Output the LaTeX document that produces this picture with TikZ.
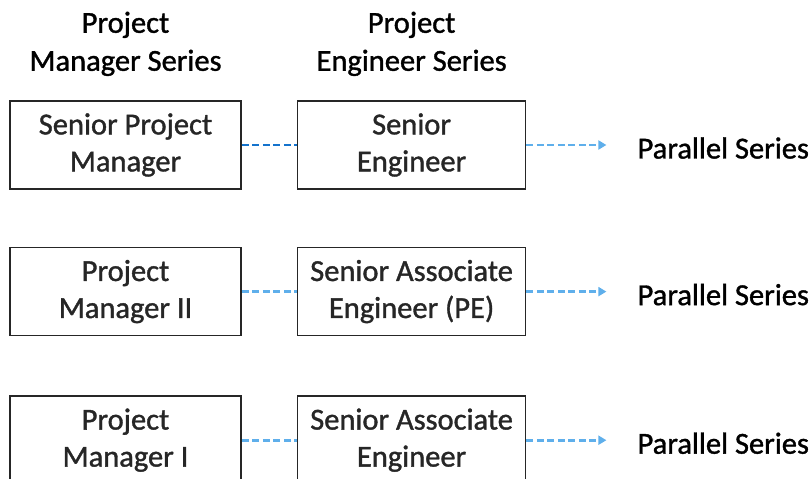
\documentclass[tikz,border=0pt]{standalone}
\usepackage{fontspec}
\setmainfont{Carlito}[FakeBold=1.2]
\usetikzlibrary{arrows.meta,positioning}
\definecolor{linkblue}{RGB}{20,115,205}
\definecolor{parblue}{RGB}{95,175,235}
\tikzset{
  role/.style={draw=black!85,line width=1.6pt,minimum width=231pt,minimum height=88pt,inner sep=0pt,align=center,text=black!85,font=\fontsize{30.5}{37}\selectfont},
  head/.style={align=center,inner sep=0pt,font=\fontsize{30.5}{38}\selectfont},
  link/.style={draw=parblue,line width=2.6pt,dash pattern=on 7pt off 3.5pt},
  par/.style={link,-{Triangle[length=8pt,width=9pt]}}
}

\begin{document}
\begin{tikzpicture}
\useasboundingbox (0,0) rectangle (812pt,-479pt);
% left column: project manager series
\node[role] (spm) at (125.5pt,-145pt) {Senior Project\\Manager};
\node[role,below=57pt of spm] (pm2) {Project\\Manager II};
\node[role,below=59pt of pm2] (pm1) {Project\\Manager I};
% middle column: project engineer series
\node[role,minimum width=228pt,right=55pt of spm] (se) {Senior\\Engineer};
\node[role,minimum width=228pt,right=55pt of pm2] (sape) {Senior Associate\\Engineer (PE)};
\node[role,minimum width=228pt,right=55pt of pm1] (sae) {Senior Associate\\Engineer};
% headers
\node[head,above=24pt of spm] (hpm) {Project\\Manager Series};
\node[head,above=24pt of se] (hpe) {Project\\Engineer Series};
% parallel series
\node[head,anchor=west] (ps1) at ([xshift=111pt,yshift=-3pt]se.east) {Parallel Series};
\node[head,anchor=west] (ps2) at ([xshift=111pt,yshift=-3pt]sape.east) {Parallel Series};
\node[head,anchor=west] (ps3) at ([xshift=111pt,yshift=-3pt]sae.east) {Parallel Series};
\coordinate (a1) at ([xshift=-31pt,yshift=3pt]ps1.west);
\coordinate (a2) at ([xshift=-31pt,yshift=3pt]ps2.west);
\coordinate (a3) at ([xshift=-31pt,yshift=3pt]ps3.west);
\draw[link,draw=linkblue] (spm) -- (se);
\draw[link] (pm2) -- (sape);
\draw[link] (pm1) -- (sae);
\draw[par] (se) -- (a1);
\draw[par] (sape) -- (a2);
\draw[par] (sae) -- (a3);
\end{tikzpicture}
\end{document}
